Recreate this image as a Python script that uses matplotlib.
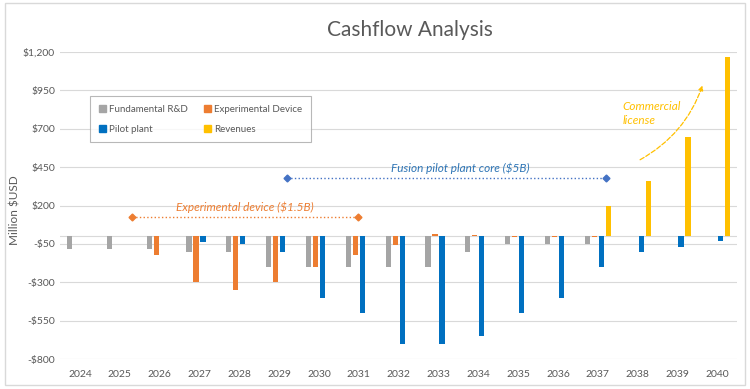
import numpy as np
import matplotlib
matplotlib.use("Agg")
import matplotlib.pyplot as plt
from matplotlib.patches import Rectangle, Patch
from matplotlib.ticker import FuncFormatter

plt.rcParams['font.family'] = ['Lato', 'DejaVu Sans']

years = [str(y) for y in range(2024, 2041)]
fundamental_rd = [-80, -80, -80, -100, -100, -200, -200, -200, -200, -200, -100, -50, -50, -50, 0, 0, 0]
experimental = [0, 0, -125, -300, -350, -300, -200, -120, -60, 15, 10, -5, -5, -5, 0, 0, 0]
pilot_plant = [0, 0, 0, -35, -50, -100, -400, -500, -700, -700, -650, -500, -400, -200, -100, -70, -30]
revenues = [0, 0, 0, 0, 0, 0, 0, 0, 0, 0, 0, 0, 0, 200, 360, 650, 1170]

series = [
    ("Fundamental R&D", fundamental_rd, "#A5A5A5"),
    ("Experimental Device", experimental, "#ED7D31"),
    ("Pilot plant", pilot_plant, "#0070C0"),
    ("Revenues", revenues, "#FFC000"),
]

fig = plt.figure(figsize=(7.5, 3.89), dpi=100)
ax = fig.add_axes([0.08, 0.077, 0.903, 0.789])

x = np.arange(len(years))
step = 0.175
width = 0.13
for i, (name, vals, color) in enumerate(series):
    ax.bar(x + (i - 1.5) * step, vals, width, color=color, label=name, zorder=3)

ax.set_xlim(-0.5, len(years) - 0.5)
ax.set_ylim(-800, 1200)
ax.set_yticks(np.arange(-800, 1201, 250))
ax.yaxis.set_major_formatter(FuncFormatter(
    lambda v, p: ("-" if v < 0 else "") + "\\$" + format(int(abs(v)), ",")))
ax.set_xticks(x)
ax.set_xticklabels(years)
ax.tick_params(length=0, labelsize=7.5, colors="#595959")
ax.tick_params(axis="x", pad=8)
ax.grid(axis="y", color="#D9D9D9", lw=0.8, zorder=0)
for s in ax.spines.values():
    s.set_visible(False)
ax.axhline(0, color="#D9D9D9", lw=0.8, zorder=2)
ax.set_ylabel("Million \\$USD", fontsize=8.5, color="#595959")
ax.yaxis.set_label_coords(-0.058, 0.485)

# annotations
ax.plot([1.31, 6.99], [125, 125], ls=":", color="#ED7D31", lw=1.0,
        marker="D", markersize=3.5, zorder=4)
ax.text(4.15, 190, "Experimental device (\\$1.5B)", color="#ED7D31",
        style="italic", fontsize=8.5, ha="center", va="center")
ax.plot([5.2, 13.2], [380, 380], ls=":", color="#4472C4", lw=1.0,
        marker="D", markersize=3.5, zorder=4)
ax.text(9.55, 445, "Fusion pilot plant core (\\$5B)", color="#2E75B6",
        style="italic", fontsize=8.5, ha="center", va="center")
ax.text(13.62, 800, "Commercial\nlicense", color="#FFC000", style="italic",
        fontsize=8.5, ha="left", va="center", linespacing=1.3)
ax.annotate("", xy=(15.65, 1000), xytext=(14.0, 490),
            arrowprops=dict(arrowstyle="-|>", ls="--", color="#FFC000", lw=0.9,
                            mutation_scale=7,
                            connectionstyle="arc3,rad=0.2"))

fig.text(0.547, 0.922, "Cashflow Analysis", fontsize=15, color="#595959",
         ha="center", va="center")

handles = [Patch(color=c, label=n) for n, _, c in series]
handles = [handles[0], handles[2], handles[1], handles[3]]
leg = fig.legend(handles=handles, ncol=2, loc="upper left",
                 bbox_to_anchor=(0.114, 0.765), fontsize=7, frameon=True,
                 fancybox=False, handlelength=0.7, handleheight=0.7,
                 handletextpad=0.35, columnspacing=1.6, labelspacing=1.1,
                 borderpad=0.9, labelcolor="#595959")
leg.get_frame().set_edgecolor("#A6A6A6")
leg.get_frame().set_linewidth(0.8)

fig.add_artist(Rectangle((0.007, 0.01), 0.986, 0.982, transform=fig.transFigure,
                         fill=False, edgecolor="#D9D9D9", lw=1.0))

fig.savefig("out.png", dpi=100)
